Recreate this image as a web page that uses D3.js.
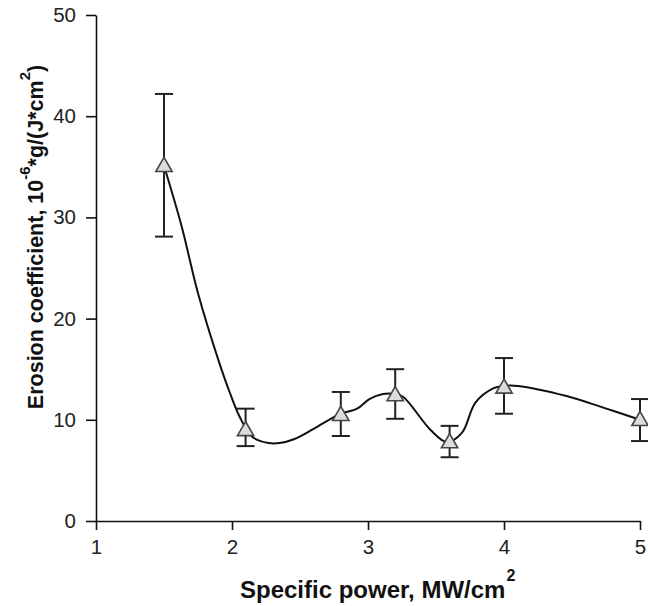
<!DOCTYPE html>
<html>
<head>
<meta charset="utf-8">
<script src="https://cdn.jsdelivr.net/npm/d3@7"></script>
<style>
  body { margin: 0; background: #fff; }
  svg { display: block; font-family: Arial, "Liberation Sans", sans-serif; }
</style>
</head>
<body>
<div class="canvas"></div>
<script>
// measured points (triangles) with error bars
const powerX = [1.5, 2.1, 2.8, 3.2, 3.6, 4.0, 5.0];
const erosion = [35.1, 9.0, 10.5, 12.45, 7.8, 13.2, 10.0];
const errHigh = [42.2, 11.1, 12.75, 15.0, 9.4, 16.1, 12.05];
const errLow = [28.1, 7.4, 8.4, 10.1, 6.3, 10.6, 7.9];

// smoothed trend line
const curveX = [1.5, 1.63, 1.75, 1.9, 1.985, 2.06, 2.15, 2.27, 2.35, 2.46, 2.6, 2.74, 2.8, 2.92, 3.01, 3.11, 3.2, 3.26, 3.46, 3.58, 3.69, 3.79, 3.92, 4.0, 4.1, 4.46, 4.73, 5.0];
const curveY = [35.1, 29.1, 22.5, 15.9, 12.65, 10.2, 8.3, 7.7, 7.7, 8.1, 9.1, 10.2, 10.6, 11.1, 12.05, 12.55, 12.55, 12.25, 9.0, 7.8, 8.7, 11.7, 13.1, 13.35, 13.35, 12.35, 11.2, 10.0];

const xTicks = [1, 2, 3, 4, 5];
const yTicks = [0, 10, 20, 30, 40, 50];

const margin = { top: 15, right: 8, bottom: 85, left: 96 };
const width = 648;
const height = 606;
const graphWidth = width - margin.left - margin.right;
const graphHeight = height - margin.top - margin.bottom;

const svg = d3.select('.canvas')
  .append('svg')
  .attr('width', width)
  .attr('height', height);

const graph = svg.append('g')
  .attr('transform', `translate(${margin.left}, ${margin.top})`);

const x = d3.scaleLinear().domain([1, 5]).range([0, graphWidth]);
const y = d3.scaleLinear().domain([0, 50]).range([graphHeight, 0]);

const xAxis = d3.axisBottom(x).tickValues(xTicks).tickFormat(d3.format('d'))
  .tickSize(9).tickSizeOuter(0).tickPadding(9);
const yAxis = d3.axisLeft(y).tickValues(yTicks).tickFormat(d3.format('d'))
  .tickSize(10).tickSizeOuter(0).tickPadding(10);

const xAxisGroup = graph.append('g')
  .attr('transform', `translate(0, ${graphHeight})`)
  .call(xAxis);
const yAxisGroup = graph.append('g').call(yAxis);

[xAxisGroup, yAxisGroup].forEach(g => {
  g.selectAll('path, line').attr('stroke', '#111').attr('stroke-width', 1.6);
  g.selectAll('text')
    .attr('fill', '#222')
    .style('font-size', '20.5px')
    .style('font-family', 'Arial, "Liberation Sans", sans-serif');
});

// trend line
const line = d3.line()
  .x((d, i) => x(curveX[i]))
  .y(d => y(d))
  .curve(d3.curveCatmullRom.alpha(0.5));

graph.append('path')
  .datum(curveY)
  .attr('fill', 'none')
  .attr('stroke', '#111')
  .attr('stroke-width', 2)
  .attr('d', line);

// error bars
const bars = graph.append('g').attr('class', 'errors');
const capW = 9;
powerX.forEach((px, i) => {
  const cx = x(px);
  bars.append('line')
    .attr('x1', cx).attr('x2', cx)
    .attr('y1', y(errHigh[i])).attr('y2', y(errLow[i]));
  bars.append('line')
    .attr('x1', cx - capW).attr('x2', cx + capW)
    .attr('y1', y(errHigh[i])).attr('y2', y(errHigh[i]));
  bars.append('line')
    .attr('x1', cx - capW).attr('x2', cx + capW)
    .attr('y1', y(errLow[i])).attr('y2', y(errLow[i]));
});
bars.selectAll('line').attr('stroke', '#222').attr('stroke-width', 2);

// triangles
const tri = d3.symbol().type(d3.symbolTriangle).size(115);
graph.selectAll('path.marker')
  .data(erosion)
  .enter().append('path')
  .attr('class', 'marker')
  .attr('d', tri)
  .attr('transform', (d, i) => `translate(${x(powerX[i])}, ${y(d) + 1})`)
  .attr('fill', '#dcdcdc')
  .attr('stroke', '#444')
  .attr('stroke-width', 1.6);

// axis titles
const xTitle = svg.append('text')
  .attr('x', 240)
  .attr('y', 598)
  .attr('font-weight', 'bold')
  .attr('font-size', 24)
  .attr('fill', '#111');
xTitle.append('tspan').text('Specific power, MW/cm');
xTitle.append('tspan').attr('dx', 1).attr('dy', -17).attr('font-size', 16).text('2');

const yTitle = svg.append('text')
  .attr('transform', 'translate(43, 237) rotate(-90)')
  .attr('text-anchor', 'middle')
  .attr('font-weight', 'bold')
  .attr('font-size', 21.5)
  .attr('fill', '#111');
yTitle.append('tspan').text('Erosion coefficient, 10');
yTitle.append('tspan').attr('dy', -13).attr('font-size', 15).text('-6');
yTitle.append('tspan').attr('dy', 13).text('*g/(J*cm');
yTitle.append('tspan').attr('dy', -13).attr('font-size', 15).text('2');
yTitle.append('tspan').attr('dy', 13).text(')');
</script>
</body>
</html>
